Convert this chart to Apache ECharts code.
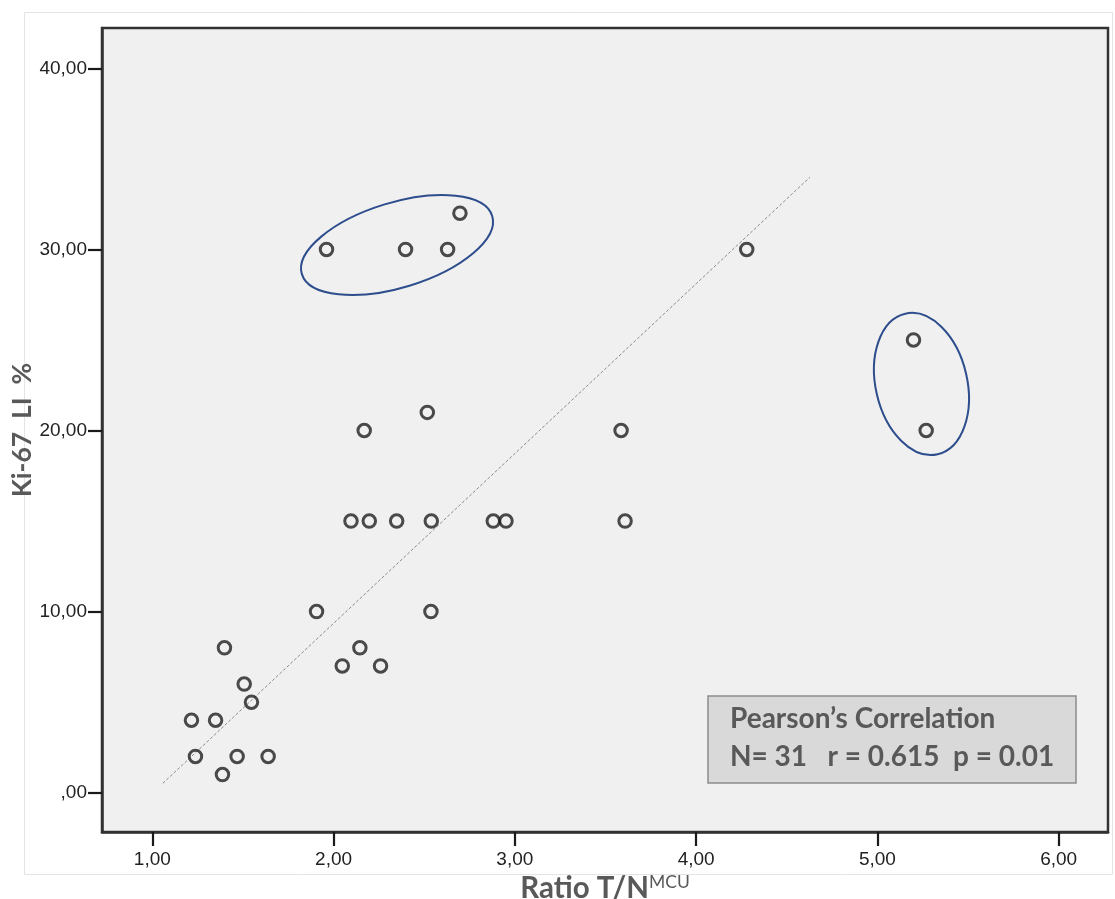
<!DOCTYPE html>
<html>
<head>
<meta charset="utf-8">
<style>
  html, body { margin: 0; padding: 0; background: #ffffff; }
  #chart { width: 1115px; height: 899px; }
</style>
<script src="https://cdn.jsdelivr.net/npm/echarts@6/dist/echarts.min.js"></script>
</head>
<body>
<div id="chart"></div>
<script>
// ---- data ----
const ratioTN = [1.961, 2.397, 2.629, 2.697, 4.279, 5.199, 5.269, 2.169, 2.517, 3.586,
                 2.096, 2.197, 2.348, 2.539, 2.881, 2.951, 3.608,
                 1.906, 2.537, 1.398, 2.145, 2.048, 2.259,
                 1.507, 1.547, 1.216, 1.349, 1.238, 1.468, 1.639, 1.387];
const ki67LI  = [30, 30, 30, 32, 30, 25, 20, 20, 21, 20,
                 15, 15, 15, 15, 15, 15, 15,
                 10, 10, 8, 8, 7, 7,
                 6, 5, 4, 4, 2, 2, 2, 1];
const fitLineX = [1.058, 4.628];
const fitLineY = [0.52, 33.99];
const xTicks = [1, 2, 3, 4, 5, 6];
const yTicks = [0, 10, 20, 30, 40];
const statLines = ['Pearson\u2019s Correlation', 'N= 31   r = 0.615  p = 0.01'];
// highlighted groups (centres in data units)
const groupCentreX = [2.35, 5.243];
const groupCentreY = [30.24, 22.57];

const fmt = v => (v === 0 ? ',00' : v.toFixed(2).replace('.', ','));

const chart = echarts.init(document.getElementById('chart'), null, { renderer: 'canvas' });

const option = {
  animation: false,
  backgroundColor: '#ffffff',
  grid: {
    left: 102, top: 28, right: 7, bottom: 67,
    show: true,
    backgroundColor: '#f0f0f0',
    borderColor: '#333333',
    borderWidth: 2.5,
    containLabel: false,
    outerBoundsMode: 'none'
  },
  xAxis: {
    type: 'value',
    min: 0.7225, max: 6.272,
    axisLine: { show: true, onZero: false, lineStyle: { color: '#333333', width: 2.5 } },
    splitLine: { show: false },
    axisTick: {
      show: true, inside: false, length: 14, customValues: xTicks,
      lineStyle: { color: '#1a1a1a', width: 2.2 }
    },
    axisLabel: {
      customValues: xTicks, formatter: fmt, margin: 18,
      fontFamily: 'Liberation Sans', fontSize: 19, color: '#222222'
    },
    name: '{a|Ratio T/N}{b|MCU}',
    nameLocation: 'middle',
    nameGap: 41,
    nameMoveOverlap: false,
    nameTextStyle: {
      rich: {
        a: { fontFamily: 'Lato', fontWeight: 'bold', fontSize: 29.5, color: '#595959', lineHeight: 30 },
        b: { fontFamily: 'Lato', fontWeight: 'normal', fontSize: 17.5, color: '#595959', lineHeight: 30, verticalAlign: 'top', padding: [0, 0, 4, 0] }
      }
    }
  },
  yAxis: {
    type: 'value',
    min: -2.17, max: 42.225,
    axisLine: { show: true, onZero: false, lineStyle: { color: '#333333', width: 2.5 } },
    splitLine: { show: false },
    axisTick: {
      show: true, inside: false, length: 14, customValues: yTicks,
      lineStyle: { color: '#1a1a1a', width: 2.2 }
    },
    axisLabel: {
      customValues: yTicks, formatter: fmt, margin: 15,
      fontFamily: 'Liberation Sans', fontSize: 19, color: '#222222'
    },
    name: 'Ki-67  LI  %',
    nameLocation: 'middle',
    nameRotate: 90,
    nameGap: 66,
    nameMoveOverlap: false,
    nameTextStyle: { fontFamily: 'Lato', fontWeight: 'bold', fontSize: 26.5, color: '#595959' }
  },
  series: [
    {
      type: 'line',
      data: fitLineX.map((x, i) => [x, fitLineY[i]]),
      symbol: 'none',
      silent: true,
      lineStyle: { color: '#8a8a8a', width: 1, type: [3, 2] },
      z: 2
    },
    {
      type: 'scatter',
      data: ratioTN.map((x, i) => [x, ki67LI[i]]),
      symbol: 'circle',
      symbolSize: 12.5,
      itemStyle: { color: 'rgba(0,0,0,0)', borderColor: '#1f1f1f', borderWidth: 3 },
      emphasis: { disabled: true },
      z: 3
    }
  ]
};

chart.setOption(option);

// annotations
const ellipseSizes = [ { rx: 99.5, ry: 42.5, rot: 17 }, { rx: 45.8, ry: 72.1, rot: 13 } ];
const graphics = [
  {
    type: 'rect', silent: true, z: -10,
    shape: { x: 24.5, y: 12.5, width: 1088, height: 862 },
    style: { fill: 'none', stroke: '#e4e4e4', lineWidth: 1 }
  }
];
groupCentreX.forEach((gx, i) => {
  const p = chart.convertToPixel({ gridIndex: 0 }, [gx, groupCentreY[i]]);
  graphics.push({
    type: 'ellipse', silent: true, z: 50,
    x: p[0], y: p[1], rotation: ellipseSizes[i].rot * Math.PI / 180,
    shape: { cx: 0, cy: 0, rx: ellipseSizes[i].rx, ry: ellipseSizes[i].ry },
    style: { fill: 'none', stroke: '#2d4d8c', lineWidth: 2 }
  });
});
graphics.push({
  type: 'rect', silent: true, z: 50,
  shape: { x: 708, y: 696, width: 368, height: 87 },
  style: { fill: '#d9d9d9', stroke: '#8c8c8c', lineWidth: 1.5 }
});
statLines.forEach((t, i) => {
  graphics.push({
    type: 'text', silent: true, z: 51,
    x: 730, y: 719 + i * 38,
    style: {
      text: t, fontFamily: 'Lato', fontWeight: 'bold', fontSize: 28,
      fill: '#595959', textAlign: 'left', textVerticalAlign: 'middle', verticalAlign: 'middle'
    }
  });
});
chart.setOption({ graphic: graphics });
</script>
</body>
</html>
